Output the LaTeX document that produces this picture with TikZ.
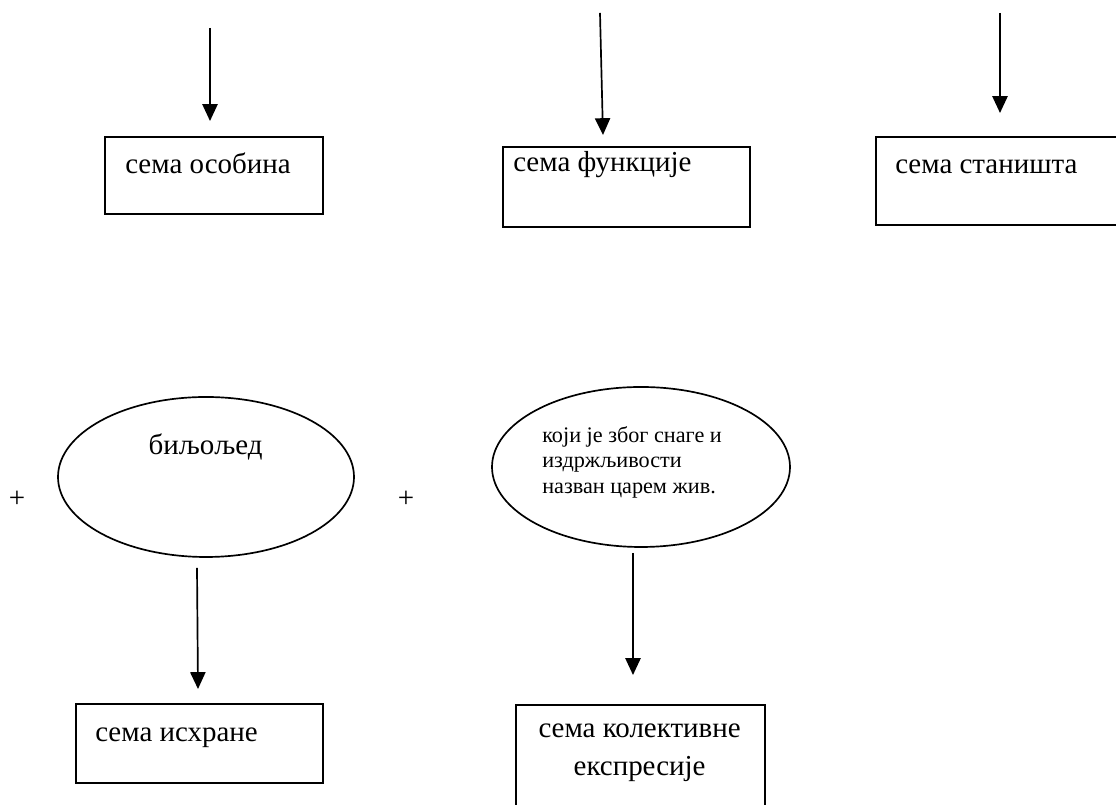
\documentclass[tikz,border=0pt]{standalone}
\usepackage{fontspec}
\setmainfont{Liberation Serif}
\usetikzlibrary{arrows.meta,shapes.geometric}

\tikzset{
  sema/.style={draw, line width=1.2pt, inner sep=0pt, anchor=north west},
  oval/.style={draw, ellipse, line width=1.2pt, inner sep=0pt},
  arr/.style={line width=1.2pt, -{Triangle[length=0.42cm,width=0.38cm]}},
  txt/.style={inner sep=0pt, font=\fontsize{20.6pt}{27pt}\selectfont},
  small/.style={inner sep=0pt, font=\fontsize{15.8pt}{18.1pt}\selectfont}
}

\begin{document}
\begin{tikzpicture}
\useasboundingbox (0,0) rectangle (27.9,20.125);

\node[sema, minimum width=5.45cm, minimum height=1.925cm] (osobina) at (2.6,16.725) {};
\node[txt, anchor=base west] (osobinaT) at (3.125,15.79) {сема особина};
\node[sema, minimum width=6.175cm, minimum height=2cm] (funkcija) at (12.55,16.475) {};
\node[txt, anchor=base west] (funkcijaT) at (12.825,15.84) {сема функције};
\node[sema, minimum width=6.5cm, minimum height=2.2cm] (staniste) at (21.875,16.725) {};
\node[txt, anchor=base west] (stanisteT) at (22.375,15.79) {сема станишта};

\coordinate (a1) at (5.25,19.425);
\coordinate (a1e) at (5.25,17.1);
\coordinate (a2) at (15.0,19.8);
\coordinate (a2e) at (15.075,16.75);
\coordinate (a3) at (25.0,19.8);
\coordinate (a3e) at (25.0,17.3);
\draw[arr] (a1) -- (a1e);
\draw[arr] (a2) -- (a2e);
\draw[arr] (a3) -- (a3e);

\node[txt] (plus1) at (0.425,7.65) {+};
\node[oval, minimum width=7.4cm, minimum height=4cm] (bilj) at (5.15,8.2) {};
\node[txt, anchor=base] (biljT) at (5.14,8.76) {биљољед};
\node[txt] (plus2) at (10.15,7.65) {+};
\node[oval, minimum width=7.45cm, minimum height=4cm] (car) at (16.025,8.45) {};
\node[small, anchor=west, align=left] (carT) at (13.55,8.575)
  {који је због снаге и\\издржљивости\\назван царем жив.};

\coordinate (a4) at (4.925,5.925);
\coordinate (a4e) at (4.95,2.9);
\coordinate (a5) at (15.825,6.3);
\coordinate (a5e) at (15.825,3.25);
\draw[arr] (a4) -- (a4e);
\draw[arr] (a5) -- (a5e);

\node[sema, minimum width=6.175cm, minimum height=1.975cm] (ishrana) at (1.875,2.55) {};
\node[txt, anchor=base west] (ishranaT) at (2.375,1.59) {сема исхране};
\node[sema, minimum width=6.225cm, minimum height=2.9cm] (kolekt) at (12.875,2.525) {};
\node[txt, align=center] (kolektT) at (15.99,1.3) {сема колективне\\експресије};
\end{tikzpicture}
\end{document}
